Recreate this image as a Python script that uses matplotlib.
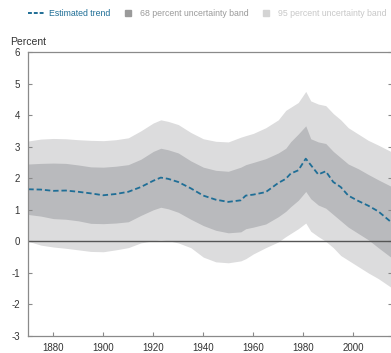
import matplotlib
matplotlib.use("Agg")
import matplotlib.pyplot as plt
from matplotlib.lines import Line2D

plt.rcParams['font.family'] = ['Liberation Sans', 'DejaVu Sans']
plt.rcParams['axes.unicode_minus'] = False

# values
years = [1870, 1875, 1880, 1885, 1890, 1895, 1900, 1905, 1910, 1915, 1920, 1923,
         1926, 1930, 1935, 1940, 1945, 1950, 1955, 1957, 1960, 1965, 1970, 1973,
         1975, 1978, 1981, 1983, 1986, 1989, 1992, 1995, 1998, 2002, 2006, 2010, 2015]

trend = [1.65, 1.64, 1.60, 1.61, 1.57, 1.52, 1.46, 1.50, 1.57, 1.72, 1.92, 2.02,
         1.98, 1.88, 1.68, 1.45, 1.32, 1.25, 1.30, 1.45, 1.48, 1.56, 1.85, 1.98,
         2.15, 2.25, 2.62, 2.42, 2.12, 2.22, 1.88, 1.72, 1.45, 1.28, 1.13, 0.95, 0.62]

upper68 = [2.45, 2.47, 2.48, 2.47, 2.42, 2.36, 2.35, 2.38, 2.43, 2.60, 2.85, 2.95,
           2.90, 2.80, 2.55, 2.35, 2.25, 2.22, 2.35, 2.43, 2.50, 2.62, 2.80, 2.95,
           3.16, 3.40, 3.66, 3.25, 3.15, 3.10, 2.85, 2.65, 2.45, 2.30, 2.12, 1.95, 1.75]

lower68 = [0.85, 0.80, 0.72, 0.70, 0.65, 0.57, 0.56, 0.58, 0.62, 0.82, 1.00, 1.08,
           1.03, 0.92, 0.70, 0.50, 0.35, 0.27, 0.30, 0.40, 0.45, 0.55, 0.78, 0.95,
           1.10, 1.30, 1.58, 1.35, 1.15, 1.05, 0.85, 0.65, 0.45, 0.25, 0.05, -0.20, -0.50]

upper95 = [3.18, 3.24, 3.26, 3.25, 3.22, 3.20, 3.19, 3.22, 3.28, 3.50, 3.75, 3.85,
           3.80, 3.70, 3.45, 3.25, 3.17, 3.15, 3.30, 3.35, 3.42, 3.60, 3.85, 4.15,
           4.25, 4.40, 4.75, 4.45, 4.35, 4.30, 4.05, 3.85, 3.60, 3.40, 3.20, 3.05, 2.85]

lower95 = [0.00, -0.12, -0.18, -0.22, -0.27, -0.32, -0.33, -0.27, -0.20, -0.05, 0.02, 0.04,
           0.02, -0.05, -0.20, -0.50, -0.65, -0.68, -0.62, -0.55, -0.40, -0.20, -0.02, 0.15,
           0.25, 0.40, 0.58, 0.32, 0.15, 0.00, -0.20, -0.45, -0.60, -0.80, -1.00, -1.18, -1.45]

x_ticks = [1880, 1900, 1920, 1940, 1960, 1980, 2000]
y_ticks = [-3, -2, -1, 0, 1, 2, 3, 4, 5, 6]

c95 = '#dcdcdd'
c68 = '#b9babd'
c_trend = '#1f6e96'
c_text = '#333333'
c_axis = '#8a8a8a'

fig = plt.figure(figsize=(3.91, 3.53), dpi=100)
ax = fig.add_axes([28.3 / 391, 17 / 353, (392 - 28.3) / 391, (336 - 52) / 353])

ax.fill_between(years, lower95, upper95, color=c95, lw=0)
ax.fill_between(years, lower68, upper68, color=c68, lw=0)
ax.axhline(0, color='#555555', lw=1.0)
ax.plot(years, trend, color=c_trend, lw=1.3, ls=(0, (3, 1.6)))

ax.set_xlim(1870, 2015.5)
ax.set_ylim(-3, 6)
ax.set_xticks(x_ticks)
ax.set_yticks(y_ticks)
ax.tick_params(axis='both', direction='in', length=3, width=0.8, color=c_axis,
               labelsize=7, labelcolor=c_text)
ax.tick_params(axis='y', right=True, pad=6)
ax.tick_params(axis='x', pad=5)
for s in ax.spines.values():
    s.set_color(c_axis)
    s.set_linewidth(0.9)

fig.text(10 / 391, 1 - 42 / 353, 'Percent', fontsize=7.5, color=c_text, va='center')

handles = [
    Line2D([], [], color=c_trend, lw=1.4, ls=(0, (2, 1))),
    Line2D([], [], color='#9a9a9a', marker='s', ls='none', markersize=4),
    Line2D([], [], color='#d4d4d4', marker='s', ls='none', markersize=4),
]
labels = ['Estimated trend', '68 percent uncertainty band', '95 percent uncertainty band']
fig.legend(handles, labels, loc='center', bbox_to_anchor=(0.53, 1 - 14 / 353), ncol=3,
           frameon=False, fontsize=6.3, handlelength=2.0, handletextpad=0.4,
           columnspacing=1.0, labelcolor=[c_trend, '#9a9a9a', '#c8c8c8'])

fig.savefig('out.png', dpi=100)
